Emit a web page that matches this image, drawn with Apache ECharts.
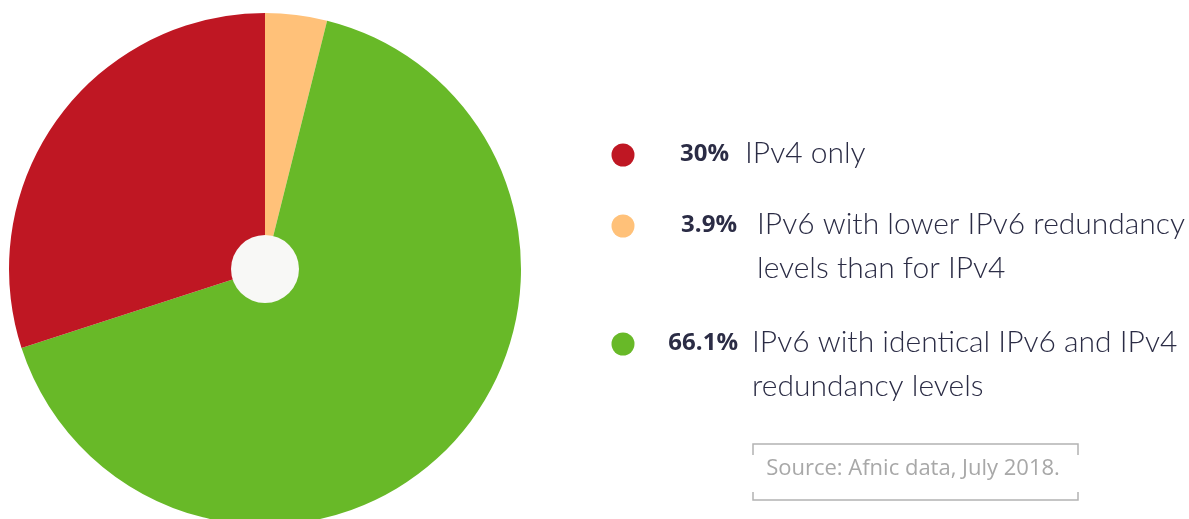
<!DOCTYPE html>
<html>
<head>
<meta charset="utf-8">
<script src="https://cdn.jsdelivr.net/npm/echarts@6/dist/echarts.min.js"></script>
<style>
  html, body { margin: 0; padding: 0; background: #fff; }
  #chart { width: 1189px; height: 519px; }
</style>
</head>
<body>
<div id="chart"></div>
<script>
// legend order: red, orange, green
const categories = [
  'IPv4 only',
  'IPv6 with lower IPv6 redundancy\nlevels than for IPv4',
  'IPv6 with identical IPv6 and IPv4\nredundancy levels'
]
const shares = [30, 3.9, 66.1]
const shareLabels = ['30%', '3.9%', '66.1%']
const colors = ['#bf1723', '#ffc179', '#68b928']
// pie is drawn clockwise from 12 o'clock: orange, green, red
const pieOrder = [1, 2, 0]
const sourceText = 'Source: Afnic data, July 2018.'

const chart = echarts.init(document.getElementById('chart'))

const pieData = pieOrder.map((i) => ({
  name: categories[i],
  value: shares[i],
  itemStyle: { color: colors[i] },
}))

// legend rows, hand placed
const rowY = [153, 224, 342]
const textX = [745, 757, 752]
const pctRight = [729, 737, 738]

const legendItems = []
categories.forEach((name, i) => {
  legendItems.push({
    type: 'circle',
    shape: { cx: 623, cy: rowY[i] + 2, r: 11.5 },
    style: { fill: colors[i] },
  })
  legendItems.push({
    type: 'text',
    x: pctRight[i],
    y: rowY[i] + 1,
    style: {
      text: shareLabels[i],
      align: 'right',
      verticalAlign: 'middle',
      font: 'bold 24px "Open Sans"',
      fill: '#2b2c45',
    },
  })
  legendItems.push({
    type: 'text',
    x: textX[i],
    y: rowY[i] - 22,
    style: {
      text: name,
      align: 'left',
      verticalAlign: 'top',
      font: '300 30px Lato',
      lineHeight: 44,
      fill: '#2b2c45',
    },
  })
})

const sourceBox = [
  {
    type: 'polyline',
    shape: { points: [[753, 455], [753, 444], [1078, 444], [1078, 455]] },
    style: { stroke: '#b3b3b3', lineWidth: 1.5, fill: null },
  },
  {
    type: 'polyline',
    shape: { points: [[753, 492], [753, 500], [1078, 500], [1078, 492]] },
    style: { stroke: '#b3b3b3', lineWidth: 1.5, fill: null },
  },
  {
    type: 'text',
    x: 913,
    y: 469,
    style: {
      text: sourceText,
      align: 'center',
      verticalAlign: 'middle',
      font: '22px "Open Sans"',
      fill: '#a8a8a8',
    },
  },
]

chart.setOption({
  backgroundColor: '#ffffff',
  animation: false,
  series: [
    {
      type: 'pie',
      center: [265, 269],
      radius: [0, 256],
      startAngle: 90,
      clockwise: true,
      label: { show: false },
      labelLine: { show: false },
      silent: true,
      data: pieData,
    },
    {
      type: 'pie',
      center: [265, 269],
      radius: [0, 34],
      label: { show: false },
      silent: true,
      data: [{ value: 1, name: 'hole', itemStyle: { color: '#f8f8f6' } }],
    },
  ],
  graphic: legendItems.concat(sourceBox),
})
</script>
</body>
</html>
